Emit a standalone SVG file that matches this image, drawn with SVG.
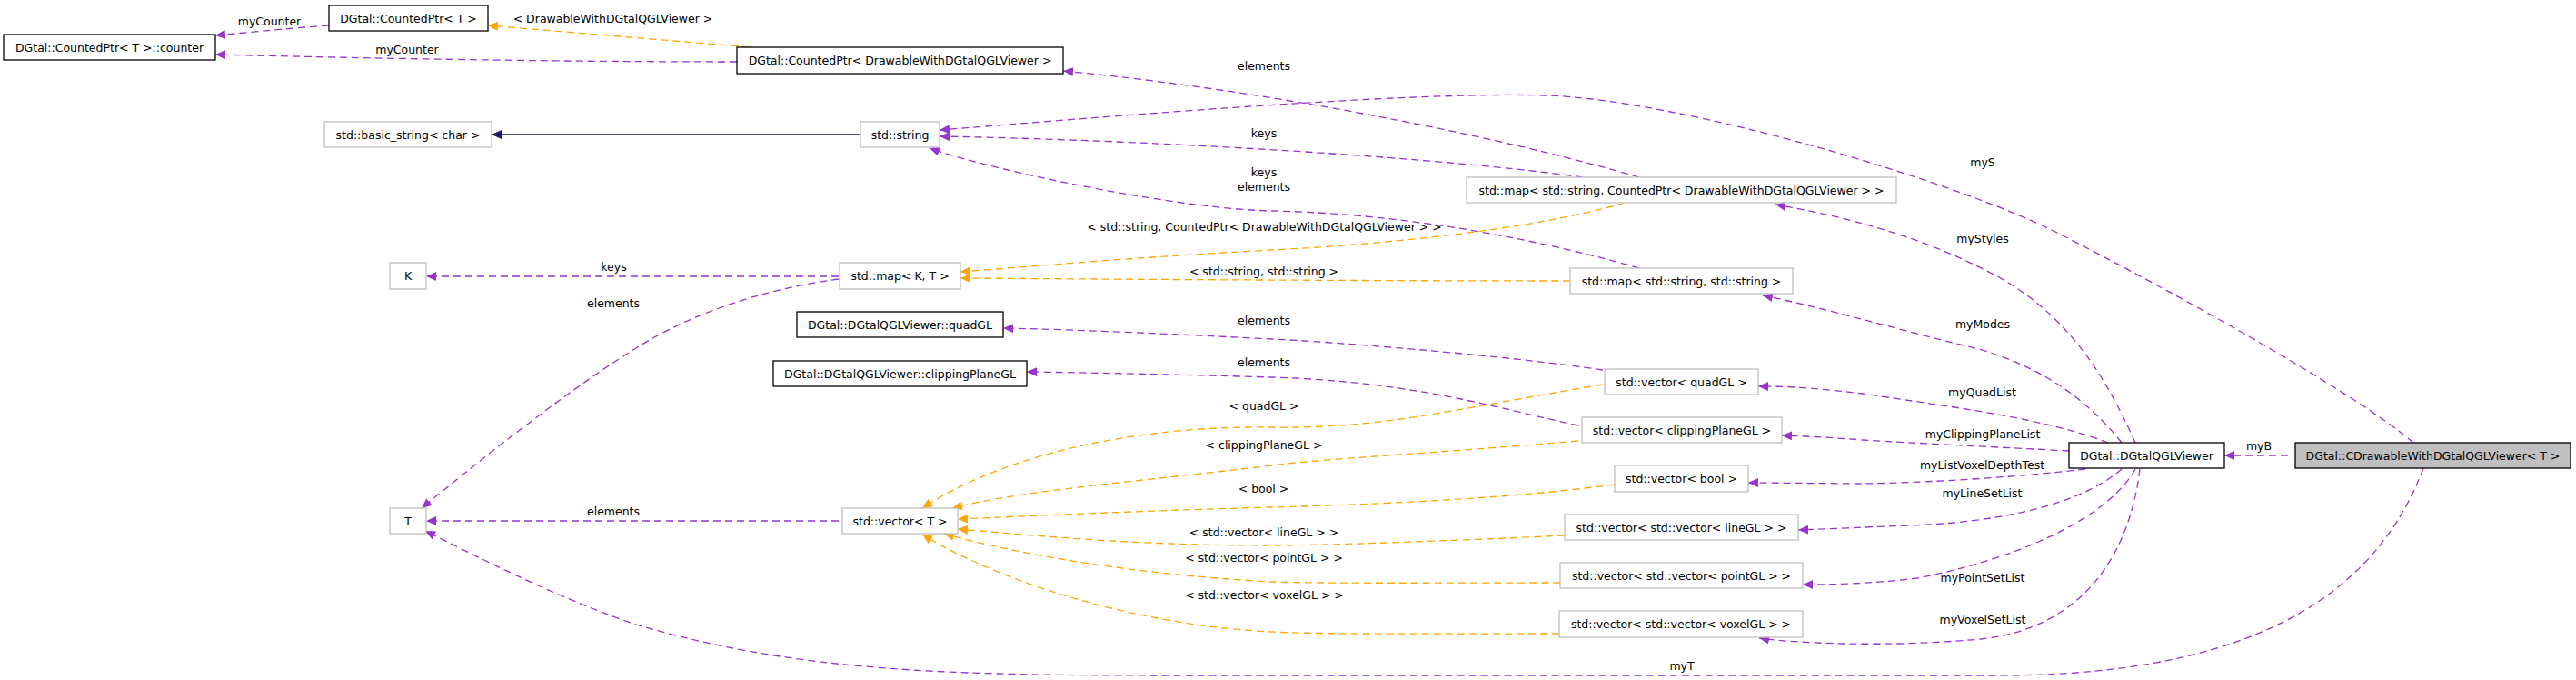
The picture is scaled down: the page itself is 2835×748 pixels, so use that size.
<svg xmlns="http://www.w3.org/2000/svg" width="2835" height="748" viewBox="0 0 2835 748">
<defs>
<style>
.t{font-family:"DejaVu Sans","Liberation Sans",sans-serif;font-size:12.5px;fill:#000;text-anchor:middle}
.nb{fill:#fff;stroke:#000;stroke-width:1.3}
.ng{fill:#fff;stroke:#bfbfbf;stroke-width:1.3}
.nf{fill:#bfbfbf;stroke:#000;stroke-width:1.3}
.e{fill:none;stroke:#9a32cd;stroke-width:1.3;stroke-dasharray:8,5;marker-end:url(#ap)}
.o{fill:none;stroke:#ffa500;stroke-width:1.3;stroke-dasharray:8,5;marker-end:url(#ao)}
.s{fill:none;stroke:#191970;stroke-width:1.3;marker-end:url(#an)}
</style>
<marker id="ap" markerUnits="userSpaceOnUse" markerWidth="12" markerHeight="10" refX="11" refY="5" orient="auto"><path d="M0,0 L11,5 L0,10 z" fill="#9a32cd"/></marker>
<marker id="ao" markerUnits="userSpaceOnUse" markerWidth="12" markerHeight="10" refX="11" refY="5" orient="auto"><path d="M0,0 L11,5 L0,10 z" fill="#ffa500"/></marker>
<marker id="an" markerUnits="userSpaceOnUse" markerWidth="12" markerHeight="10" refX="11" refY="5" orient="auto"><path d="M0,0 L11,5 L0,10 z" fill="#191970"/></marker>
</defs>
<rect width="2835" height="748" fill="#fff"/>
<g id="edges">
<path class="e" d="M362,28 C320,31 280,35 237,39"/>
<path class="e" d="M811,68 C600,68 400,64 237,60"/>
<path class="o" d="M826,52 L537,28"/>
<path class="s" d="M947,148 L541,148"/>
<path class="e" d="M1804,195 C1650,150 1400,100 1170,78"/>
<path class="e" d="M2656,487 C2590,430 2380,315 2266,257 C2150,198 1850,110 1702,105 C1550,100 1200,130 1034,143"/>
<path class="e" d="M1742,195 C1600,175 1300,155 1034,150"/>
<path class="e" d="M1804,295 C1700,265 1550,235 1400,232 C1300,230 1100,190 1023,163"/>
<path class="o" d="M1788,223 C1680,255 1500,270 1400,275 C1250,283 1150,292 1057,299"/>
<path class="o" d="M1728,309 C1500,309 1200,307 1057,306"/>
<path class="e" d="M923,304 L469,304"/>
<path class="e" d="M923,307 C840,318 760,345 700,383 C640,420 560,480 464,559"/>
<path class="e" d="M1764,407 C1650,390 1450,375 1400,373 C1300,368 1200,363 1104,361"/>
<path class="e" d="M1737,468 C1650,450 1560,420 1400,415 C1300,412 1200,410 1130,409"/>
<path class="o" d="M1764,423 C1600,450 1520,472 1400,470 C1280,468 1120,490 1015,559"/>
<path class="o" d="M1737,485 C1600,497 1450,505 1400,512 C1250,530 1120,540 1048,559"/>
<path class="o" d="M1777,533 C1650,550 1500,555 1400,558 C1250,562 1150,567 1054,571"/>
<path class="o" d="M1722,589 C1600,595 1450,600 1400,600 C1250,600 1150,590 1054,582"/>
<path class="o" d="M1717,641 C1600,641 1450,642 1400,640 C1250,632 1120,610 1039,587"/>
<path class="o" d="M1716,697 C1600,697 1450,698 1400,695 C1250,688 1100,640 1015,588"/>
<path class="e" d="M923,573 L469,573"/>
<path class="e" d="M2667,515 C2620,640 2500,743 2200,743 L1300,743 C1050,743 880,740 700,687 C620,660 540,620 468,584"/>
<path class="e" d="M2350,487 C2320,420 2280,350 2200,305 C2120,262 2040,240 1954,225"/>
<path class="e" d="M2335,487 C2290,430 2230,395 2157,379 C2080,360 2000,337 1940,325"/>
<path class="e" d="M2320,487 C2250,460 2150,448 2050,433 C2000,427 1970,425 1935,425"/>
<path class="e" d="M2277,496 C2200,492 2100,487 2050,484 C2010,481 1990,480 1961,479"/>
<path class="e" d="M2295,516 C2220,525 2120,531 2050,532 L1924,531"/>
<path class="e" d="M2335,516 C2290,555 2200,575 2100,578 C2050,580 2010,582 1979,583"/>
<path class="e" d="M2350,516 C2320,570 2220,615 2110,636 C2060,642 2020,643 1984,643"/>
<path class="e" d="M2355,516 C2345,600 2300,690 2180,703 C2080,712 1980,708 1936,702"/>
<path class="e" d="M2518,501 L2448,501"/>
</g>
<g id="edge-labels">
<text class="t" x="296.5" y="28">myCounter</text>
<text class="t" x="674.5" y="25">&lt; DrawableWithDGtalQGLViewer &gt;</text>
<text class="t" x="448" y="59">myCounter</text>
<text class="t" x="1391" y="77">elements</text>
<text class="t" x="1391" y="151">keys</text>
<text class="t" x="1391" y="194">keys</text>
<text class="t" x="1391" y="210">elements</text>
<text class="t" x="1391.5" y="254">&lt; std::string, CountedPtr&lt; DrawableWithDGtalQGLViewer &gt; &gt;</text>
<text class="t" x="1391" y="303">&lt; std::string, std::string &gt;</text>
<text class="t" x="675.5" y="298">keys</text>
<text class="t" x="675" y="338">elements</text>
<text class="t" x="1391" y="357">elements</text>
<text class="t" x="1391" y="403">elements</text>
<text class="t" x="1391" y="451">&lt; quadGL &gt;</text>
<text class="t" x="1391" y="494">&lt; clippingPlaneGL &gt;</text>
<text class="t" x="1390.5" y="542">&lt; bool &gt;</text>
<text class="t" x="1391" y="590">&lt; std::vector&lt; lineGL &gt; &gt;</text>
<text class="t" x="1391" y="618">&lt; std::vector&lt; pointGL &gt; &gt;</text>
<text class="t" x="1391.5" y="659">&lt; std::vector&lt; voxelGL &gt; &gt;</text>
<text class="t" x="675" y="567">elements</text>
<text class="t" x="1851" y="737">myT</text>
<text class="t" x="2182" y="183">myS</text>
<text class="t" x="2182" y="267">myStyles</text>
<text class="t" x="2182" y="361">myModes</text>
<text class="t" x="2181.5" y="436">myQuadList</text>
<text class="t" x="2182" y="482">myClippingPlaneList</text>
<text class="t" x="2181.5" y="516">myListVoxelDepthTest</text>
<text class="t" x="2181.5" y="547">myLineSetList</text>
<text class="t" x="2182" y="640">myPointSetList</text>
<text class="t" x="2182" y="686">myVoxelSetList</text>
<text class="t" x="2486" y="495">myB</text>
</g>
<g id="n_counter"><rect class="nb" x="4" y="38" width="233" height="28"/><text class="t" x="120.5" y="56.5">DGtal::CountedPtr&lt; T &gt;::counter</text></g>
<g id="n_cptrT"><rect class="nb" x="362" y="6" width="175" height="28"/><text class="t" x="449.5" y="24.5">DGtal::CountedPtr&lt; T &gt;</text></g>
<g id="n_cptrD"><rect class="nb" x="811" y="52" width="359" height="29"/><text class="t" x="990.5" y="71">DGtal::CountedPtr&lt; DrawableWithDGtalQGLViewer &gt;</text></g>
<g id="n_bstr"><rect class="ng" x="357" y="134" width="184" height="28"/><text class="t" x="449" y="152.5">std::basic_string&lt; char &gt;</text></g>
<g id="n_str"><rect class="ng" x="947" y="134" width="87" height="28"/><text class="t" x="990.5" y="152.5">std::string</text></g>
<g id="n_mapSC"><rect class="ng" x="1614" y="195" width="473" height="28"/><text class="t" x="1850.5" y="213.5">std::map&lt; std::string, CountedPtr&lt; DrawableWithDGtalQGLViewer &gt; &gt;</text></g>
<g id="n_K"><rect class="ng" x="429" y="289" width="40" height="29"/><text class="t" x="449" y="308">K</text></g>
<g id="n_mapKT"><rect class="ng" x="924" y="289" width="133" height="29"/><text class="t" x="990.5" y="308">std::map&lt; K, T &gt;</text></g>
<g id="n_mapSS"><rect class="ng" x="1728" y="295" width="245" height="28"/><text class="t" x="1850.5" y="313.5">std::map&lt; std::string, std::string &gt;</text></g>
<g id="n_quadGL"><rect class="nb" x="877" y="343" width="227" height="28"/><text class="t" x="990.5" y="361.5">DGtal::DGtalQGLViewer::quadGL</text></g>
<g id="n_clipGL"><rect class="nb" x="851" y="397" width="279" height="28"/><text class="t" x="990.5" y="415.5">DGtal::DGtalQGLViewer::clippingPlaneGL</text></g>
<g id="n_vquad"><rect class="ng" x="1766" y="406" width="169" height="28"/><text class="t" x="1850.5" y="424.5">std::vector&lt; quadGL &gt;</text></g>
<g id="n_vclip"><rect class="ng" x="1741" y="459" width="220" height="28"/><text class="t" x="1851" y="477.5">std::vector&lt; clippingPlaneGL &gt;</text></g>
<g id="n_vbool"><rect class="ng" x="1777" y="512" width="147" height="29"/><text class="t" x="1850.5" y="531">std::vector&lt; bool &gt;</text></g>
<g id="n_vline"><rect class="ng" x="1722" y="566" width="257" height="28"/><text class="t" x="1850.5" y="584.5">std::vector&lt; std::vector&lt; lineGL &gt; &gt;</text></g>
<g id="n_vpoint"><rect class="ng" x="1717" y="619" width="267" height="28"/><text class="t" x="1850.5" y="637.5">std::vector&lt; std::vector&lt; pointGL &gt; &gt;</text></g>
<g id="n_vvoxel"><rect class="ng" x="1716" y="672" width="268" height="29"/><text class="t" x="1850" y="691">std::vector&lt; std::vector&lt; voxelGL &gt; &gt;</text></g>
<g id="n_vT"><rect class="ng" x="927" y="559" width="127" height="28"/><text class="t" x="990.5" y="577.5">std::vector&lt; T &gt;</text></g>
<g id="n_T"><rect class="ng" x="429" y="559" width="40" height="28"/><text class="t" x="449" y="577.5">T</text></g>
<g id="n_viewer"><rect class="nb" x="2277" y="487" width="171" height="28"/><text class="t" x="2362.5" y="505.5">DGtal::DGtalQGLViewer</text></g>
<g id="n_cdraw"><rect class="nf" x="2526" y="487" width="303" height="28"/><text class="t" x="2677.5" y="505.5">DGtal::CDrawableWithDGtalQGLViewer&lt; T &gt;</text></g>
</svg>
